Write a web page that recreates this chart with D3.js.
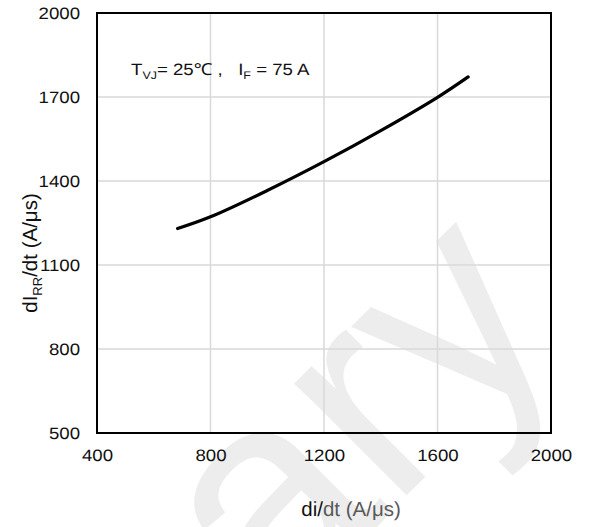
<!DOCTYPE html>
<html>
<head>
<meta charset="utf-8">
<script src="https://cdn.jsdelivr.net/npm/d3@7/dist/d3.min.js"></script>
<style>
  html, body { margin: 0; padding: 0; background: #fff; }
  svg { display: block; font-family: "Liberation Sans", Arial, sans-serif; text-rendering: geometricPrecision; }
</style>
</head>
<body>
<svg id="chart" width="590" height="527"></svg>
<script>
// ---- data ----
const diDt = [684, 800, 1000, 1200, 1400, 1600, 1708];          // di/dt (A/µs)
const dIrrDt = [1230, 1272, 1366, 1469, 1580, 1699, 1772];       // dI_RR/dt (A/µs)
const xTicks = [400, 800, 1200, 1600, 2000];
const yTicks = [500, 800, 1100, 1400, 1700, 2000];
const xDomain = [400, 2000];
const yDomain = [500, 2000];

const W = 590, H = 527;
const m = { left: 97, top: 13, right: 39, bottom: 94 };
const svg = d3.select("#chart");

const x = d3.scaleLinear().domain(xDomain).range([m.left, W - m.right]);
const y = d3.scaleLinear().domain(yDomain).range([H - m.bottom, m.top]);

// watermark (partially visible, as in the reference)
svg.append("text")
  .attr("transform", "translate(274,628) rotate(-45)")
  .attr("font-size", 300)
  .attr("fill", "#ededed")
  .text("ary");

// grid
svg.append("g").selectAll("line")
  .data(xTicks.slice(1, -1)).join("line")
  .attr("x1", d => x(d)).attr("x2", d => x(d))
  .attr("y1", y(yDomain[0])).attr("y2", y(yDomain[1]))
  .attr("stroke", "#d9d9d9").attr("stroke-width", 1.5);
svg.append("g").selectAll("line")
  .data(yTicks.slice(1, -1)).join("line")
  .attr("y1", d => y(d)).attr("y2", d => y(d))
  .attr("x1", x(xDomain[0])).attr("x2", x(xDomain[1]))
  .attr("stroke", "#d9d9d9").attr("stroke-width", 1.5);

// axes (labels only)
const SX = 1.13;
const gx = svg.append("g")
  .attr("transform", `translate(0,${y(yDomain[0])})`)
  .call(d3.axisBottom(x).tickValues(xTicks).tickSize(0).tickPadding(0).tickFormat(d3.format("d")));
gx.select(".domain").remove();
gx.attr("font-family", null).attr("font-size", null);
gx.selectAll("text")
  .attr("font-size", 16.5)
  .attr("fill", "#111").attr("y", 16.5).attr("dy", "0.71em")
  .attr("transform", `scale(${SX},1)`);

const gy = svg.append("g")
  .attr("transform", `translate(${x(xDomain[0])},0)`)
  .call(d3.axisLeft(y).tickValues(yTicks).tickSize(0).tickPadding(0).tickFormat(d3.format("d")));
gy.select(".domain").remove();
gy.attr("font-family", null).attr("font-size", null);
gy.selectAll("text")
  .attr("font-size", 16.5)
  .attr("fill", "#111").attr("x", -17 / SX).attr("dy", "0.36em")
  .attr("transform", `scale(${SX},1)`);

// frame
svg.append("rect")
  .attr("x", x(xDomain[0])).attr("y", y(yDomain[1]))
  .attr("width", x(xDomain[1]) - x(xDomain[0]))
  .attr("height", y(yDomain[0]) - y(yDomain[1]))
  .attr("fill", "none").attr("stroke", "#000").attr("stroke-width", 2);

// curve
const pts = diDt.map((d, i) => [d, dIrrDt[i]]);
svg.append("path")
  .datum(pts)
  .attr("d", d3.line().x(d => x(d[0])).y(d => y(d[1])).curve(d3.curveCatmullRom.alpha(0.5)))
  .attr("fill", "none").attr("stroke", "#000").attr("stroke-width", 3.2)
  .attr("stroke-linecap", "round");

// annotation
const ann = svg.append("text")
  .attr("transform", `translate(131,75) scale(${SX},1)`)
  .attr("font-size", 16.5).attr("fill", "#111");
ann.append("tspan").text("T");
ann.append("tspan").attr("font-size", 11).attr("dy", 4).text("VJ");
ann.append("tspan").attr("dy", -4).text("= 25℃\u00A0,\u00A0\u00A0\u00A0I");
ann.append("tspan").attr("font-size", 11).attr("dy", 4).text("F");
ann.append("tspan").attr("dy", -4).text(" = 75 A");

// x label
const xl = svg.append("text")
  .attr("transform", `translate(351,516)`)
  .attr("text-anchor", "middle").attr("font-size", 20.5).attr("fill", "#111");
xl.append("tspan").text("di/");
xl.append("tspan").attr("fill", "#595959").text("dt (A/μs)");

// y label
const yl = svg.append("text")
  .attr("transform", `translate(37,253) rotate(-90)`)
  .attr("text-anchor", "middle").attr("font-size", 20.5).attr("fill", "#111");
yl.append("tspan").text("dI");
yl.append("tspan").attr("font-size", 13).attr("dy", 5).text("RR");
yl.append("tspan").attr("dy", -5).text("/dt (A/μs)");
</script>
</body>
</html>
